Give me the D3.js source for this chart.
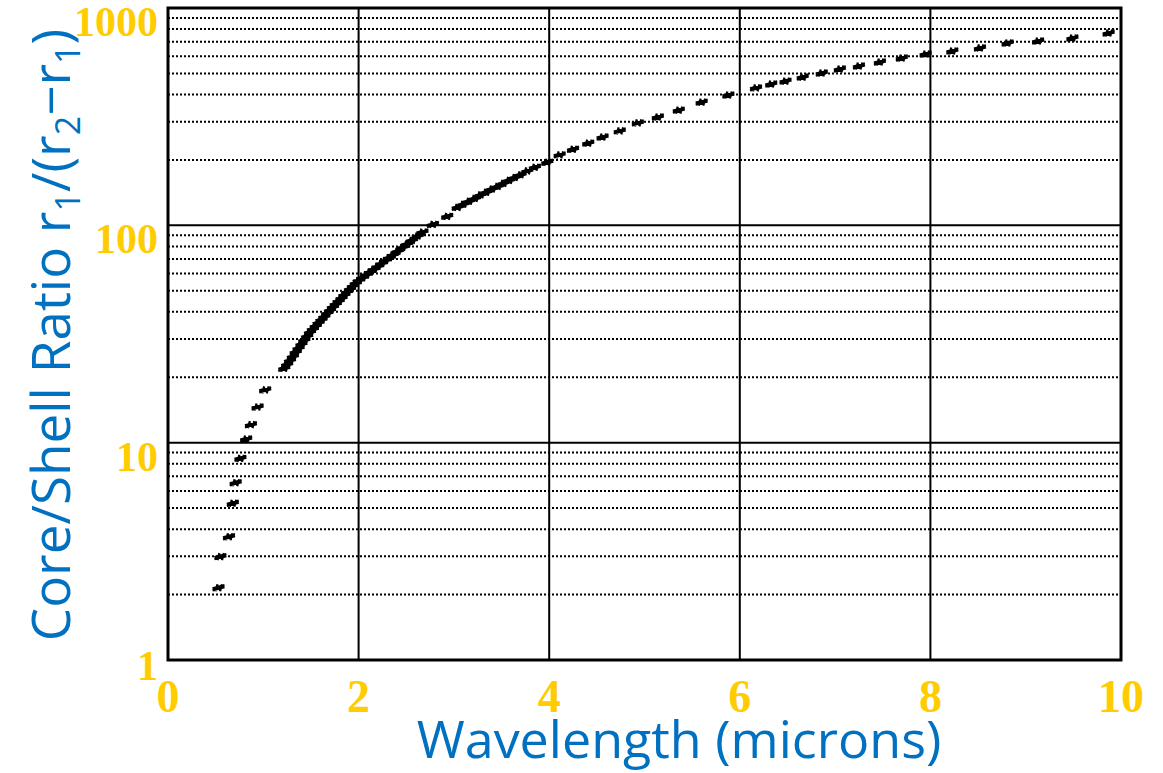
<!DOCTYPE html>
<html>
<head>
<meta charset="utf-8">
<script src="https://cdn.jsdelivr.net/npm/d3@7"></script>
<style>
	body { margin: 0; background: #fff; }
	svg { display: block; }
</style>
</head>
<body>
<div class="chart"></div>
<script>
// wavelength (microns) vs core/shell ratio
const wavelength = [
	0.53, 0.55, 0.64, 0.68, 0.71, 0.76, 0.82, 0.87, 0.94, 1.02,
	1.22, 1.25, 1.28, 1.31, 1.34, 1.37, 1.40, 1.43, 1.46, 1.49,
	1.52, 1.55, 1.58, 1.61, 1.64, 1.67, 1.70, 1.73, 1.76, 1.79,
	1.82, 1.85, 1.88, 1.91, 1.94, 1.97, 2.00,
	2.04, 2.08, 2.12, 2.16, 2.20, 2.24, 2.28, 2.32, 2.36, 2.41,
	2.46, 2.51, 2.56, 2.62, 2.67, 2.78, 2.93,
	3.04, 3.10, 3.16, 3.22, 3.28, 3.34, 3.40, 3.46, 3.52, 3.58,
	3.64, 3.70, 3.77, 3.85, 3.98,
	4.11, 4.25, 4.41, 4.56, 4.74, 4.93, 5.14, 5.36, 5.60, 5.88,
	6.17, 6.33, 6.48, 6.66, 6.86, 7.05, 7.25, 7.47, 7.70, 7.95,
	8.23, 8.52, 8.81, 9.13, 9.49, 9.87
];
const ratio = [
	2.15, 2.99, 3.69, 5.26, 6.54, 8.47, 10.4, 12.1, 14.6, 17.5,
	22.0, 22.9, 23.9, 24.9, 26.1, 27.2, 28.4, 29.6, 30.9, 32.2,
	33.3, 34.4, 35.6, 36.8, 38.0, 39.4, 40.7, 42.1, 43.4, 44.8,
	46.2, 47.8, 49.3, 50.9, 52.6, 54.2, 55.7,
	57.4, 59.2, 61.0, 62.8, 64.7, 66.7, 68.9, 71.0, 73.1, 76.0,
	79.1, 82.0, 85.3, 89.3, 93.1, 101, 110,
	121, 125, 129, 133, 138, 142, 147, 151, 156, 161,
	166, 171, 178, 185, 195,
	211, 224, 239, 255, 272, 296, 315, 339, 369, 398,
	429, 447, 461, 481, 502, 524, 541, 564, 589, 614,
	634, 655, 690, 705, 728, 767
];
const xTicks = [0, 2, 4, 6, 8, 10];
const yTicks = [1, 10, 100, 1000];

const width = 1163, height = 773;
const margin = { top: 8, right: 42, bottom: 113, left: 168 };
const yellow = '#ffcc00', blue = '#0070c0';

let svg = d3.select('.chart')
	.append('svg')
	.attr('width', width)
	.attr('height', height);

let x = d3.scaleLinear()
	.domain([0, 10])
	.range([margin.left, width - margin.right]);

let y = d3.scaleLog()
	.domain([1, 1000])
	.range([height - margin.bottom, margin.top]);

// minor dotted grid at 2..9 of each decade
let minor = [];
for (const d of [1, 10, 100]) {
	for (let k = 2; k <= 9; k++) minor.push(d * k);
}

let grid = svg.append('g');

grid.selectAll('.minor')
	.data(minor)
	.enter().append('line')
	.attr('class', 'minor')
	.attr('x1', x(0)).attr('x2', x(10))
	.attr('y1', d => y(d)).attr('y2', d => y(d))
	.attr('stroke', '#000')
	.attr('stroke-width', 2)
	.attr('stroke-dasharray', '2,2');

grid.selectAll('.major-y')
	.data(yTicks.slice(1, -1))
	.enter().append('line')
	.attr('class', 'major-y')
	.attr('x1', x(0)).attr('x2', x(10))
	.attr('y1', d => y(d)).attr('y2', d => y(d))
	.attr('stroke', '#000')
	.attr('stroke-width', 2);

grid.selectAll('.major-x')
	.data(xTicks.slice(1, -1))
	.enter().append('line')
	.attr('class', 'major-x')
	.attr('x1', d => x(d)).attr('x2', d => x(d))
	.attr('y1', y(1)).attr('y2', y(1000))
	.attr('stroke', '#000')
	.attr('stroke-width', 2);

// frame
svg.append('rect')
	.attr('x', x(0)).attr('y', y(1000))
	.attr('width', x(10) - x(0))
	.attr('height', y(1) - y(1000))
	.attr('fill', 'none')
	.attr('stroke', '#000')
	.attr('stroke-width', 3);

// markers: small slanted hash shapes
let marker = 'M-6,2.6L6,-0.6M-6,0.6L6,-2.6M-3,3.5L-1,-3.5M1.5,3.5L3.5,-3.5';
svg.append('g').selectAll('path')
	.data(wavelength)
	.enter().append('path')
	.attr('d', marker)
	.attr('transform', (d, i) => `translate(${x(d)},${y(ratio[i])})`)
	.attr('fill', 'none')
	.attr('stroke', '#000')
	.attr('stroke-width', 2.3);

// tick labels
svg.append('g').selectAll('text')
	.data(xTicks)
	.enter().append('text')
	.text(d => d)
	.attr('x', d => x(d))
	.attr('y', y(1) + 52)
	.attr('text-anchor', 'middle')
	.attr('font-family', 'Liberation Serif')
	.attr('font-weight', 'bold')
	.attr('font-size', 46)
	.attr('fill', yellow);

svg.append('g').selectAll('text')
	.data(yTicks)
	.enter().append('text')
	.text(d => d)
	.attr('x', x(0) - 10)
	.attr('y', d => y(d) + (d === 1 ? 20 : 28))
	.attr('text-anchor', 'end')
	.attr('font-family', 'Liberation Serif')
	.attr('font-weight', 'bold')
	.attr('font-size', 42)
	.attr('fill', yellow);

// axis titles
svg.append('text')
	.text('Wavelength (microns)')
	.attr('x', 679)
	.attr('y', 758)
	.attr('text-anchor', 'middle')
	.attr('font-family', 'Open Sans')
	.attr('font-size', 52)
	.attr('fill', blue);

let ytitle = svg.append('text')
	.attr('transform', 'translate(70,335) rotate(-90)')
	.attr('text-anchor', 'middle')
	.attr('font-family', 'Open Sans')
	.attr('font-size', 53)
	.attr('fill', blue);
ytitle.append('tspan').text('Core/Shell Ratio r');
ytitle.append('tspan').text('1').attr('font-size', 34).attr('dy', 10);
ytitle.append('tspan').text('/(r').attr('dy', -10);
ytitle.append('tspan').text('2').attr('font-size', 34).attr('dy', 10);
ytitle.append('tspan').text('\u2212r').attr('dy', -10);
ytitle.append('tspan').text('1').attr('font-size', 34).attr('dy', 10);
ytitle.append('tspan').text(')').attr('dy', -10);
</script>
</body>
</html>
